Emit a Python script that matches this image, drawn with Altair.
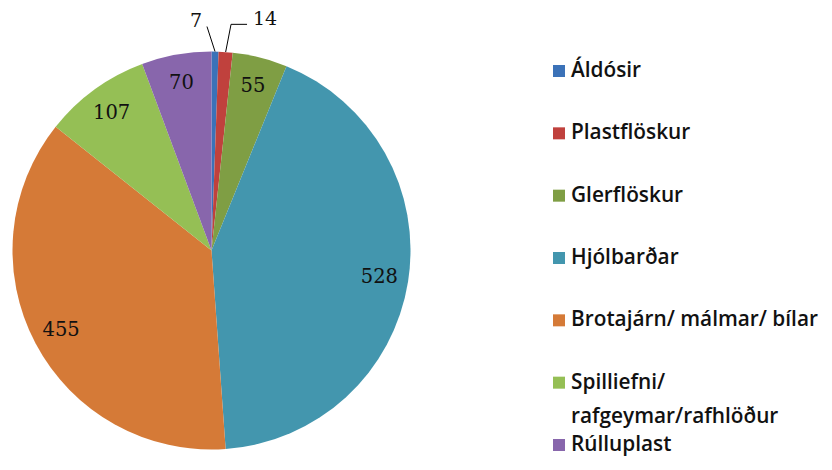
import altair as alt
import pandas as pd

categories = ["Áldósir", "Plastflöskur", "Glerflöskur", "Hjólbarðar",
              "Brotajárn/ málmar/ bílar", "Spilliefni/ rafgeymar/rafhlöður", "Rúlluplast"]
legend_labels = ["Áldósir", "Plastflöskur", "Glerflöskur", "Hjólbarðar",
                 "Brotajárn/ málmar/ bílar", "Spilliefni/\nrafgeymar/rafhlöður", "Rúlluplast"]
values = [7, 14, 55, 528, 455, 107, 70]
colors = ["#3B72B8", "#C0413D", "#7F9E44", "#4396AE", "#D57A37", "#95BF55", "#8866AC"]

df = pd.DataFrame({
    "category": categories,
    "label": legend_labels,
    "value": values,
    "idx": list(range(len(categories))),
})

CX, CY, R = 203.5, 242.5, 199
NUM_FONT = "DejaVu Serif"
LEG_FONT = "Open Sans"

color = alt.Color("category:N", scale=alt.Scale(domain=categories, range=colors), legend=None)
theta = alt.Theta("value:Q", stack=True)
order = alt.Order("idx:Q", sort="ascending")

base = alt.Chart(df)

pie = base.mark_arc(outerRadius=R).encode(
    theta=theta, color=color, order=order,
    x=alt.value(CX), y=alt.value(CY),
)

inside = base.mark_text(radius=170, font=NUM_FONT, fontSize=19.5, color="#111111").encode(
    theta=theta, order=order,
    text=alt.condition(alt.datum.value >= 50, alt.Text("value:Q"), alt.value("")),
    x=alt.value(CX), y=alt.value(CY),
)

# geometry for the small slices (leader lines + outside labels)
geo = base.transform_joinaggregate(total="sum(value)").transform_window(
    cum="sum(value)", sort=[alt.SortField("idx")], frame=[None, 0]
).transform_calculate(
    m="(datum.cum - datum.value/2) / datum.total * 2 * PI",
    d="datum.idx == 0 ? -0.038 : 0.015",
    r2="datum.idx == 0 ? 224 : 227",
).transform_calculate(
    px1=f"{CX} + {R} * sin(datum.m)",
    py1=f"{CY} - {R} * cos(datum.m)",
    px2=f"{CX} + datum.r2 * sin(datum.m + datum.d)",
    py2=f"{CY} - datum.r2 * cos(datum.m + datum.d)",
).transform_calculate(
    px3="datum.px2 + 16",
).transform_filter(alt.datum.value < 50)

leaders = geo.mark_rule(color="#000000", strokeWidth=1).encode(
    x=alt.X("px1:Q", scale=None, axis=None),
    y=alt.Y("py1:Q", scale=None, axis=None),
    x2="px2:Q", y2="py2:Q",
)
hook = geo.transform_filter(alt.datum.idx == 1).mark_rule(color="#000000", strokeWidth=1).encode(
    x=alt.X("px2:Q", scale=None, axis=None),
    x2="px3:Q",
    y=alt.Y("py2:Q", scale=None, axis=None),
)
lab7 = geo.transform_filter(alt.datum.idx == 0).mark_text(
    font=NUM_FONT, fontSize=19, color="#111111", dx=-11, dy=-6
).encode(
    x=alt.X("px2:Q", scale=None, axis=None),
    y=alt.Y("py2:Q", scale=None, axis=None),
    text="value:Q",
)
lab14 = geo.transform_filter(alt.datum.idx == 1).mark_text(
    font=NUM_FONT, fontSize=19, color="#111111", dx=34, dy=-5
).encode(
    x=alt.X("px2:Q", scale=None, axis=None),
    y=alt.Y("py2:Q", scale=None, axis=None),
    text="value:Q",
)

leg_y = alt.Y("category:N", sort=categories,
              scale=alt.Scale(type="point", domain=categories, range=[63, 437], padding=0),
              axis=None)
leg_sq = base.mark_square(size=144, opacity=1).encode(
    x=alt.value(551), y=leg_y, color=color,
)
leg_txt = base.mark_text(align="left", baseline="top", dy=-10, lineBreak="\n", lineHeight=34,
                         font=LEG_FONT, fontSize=20.8, fontWeight=600, color="#111111").encode(
    x=alt.value(563), y=leg_y, text="label:N",
)

chart = alt.layer(pie, inside, leaders, hook, lab7, lab14, leg_sq, leg_txt).properties(
    width=816, height=452, padding=0, autosize="none",
).configure_view(stroke=None)

chart.save("out.html", embed_options={"renderer": "svg", "actions": False})
